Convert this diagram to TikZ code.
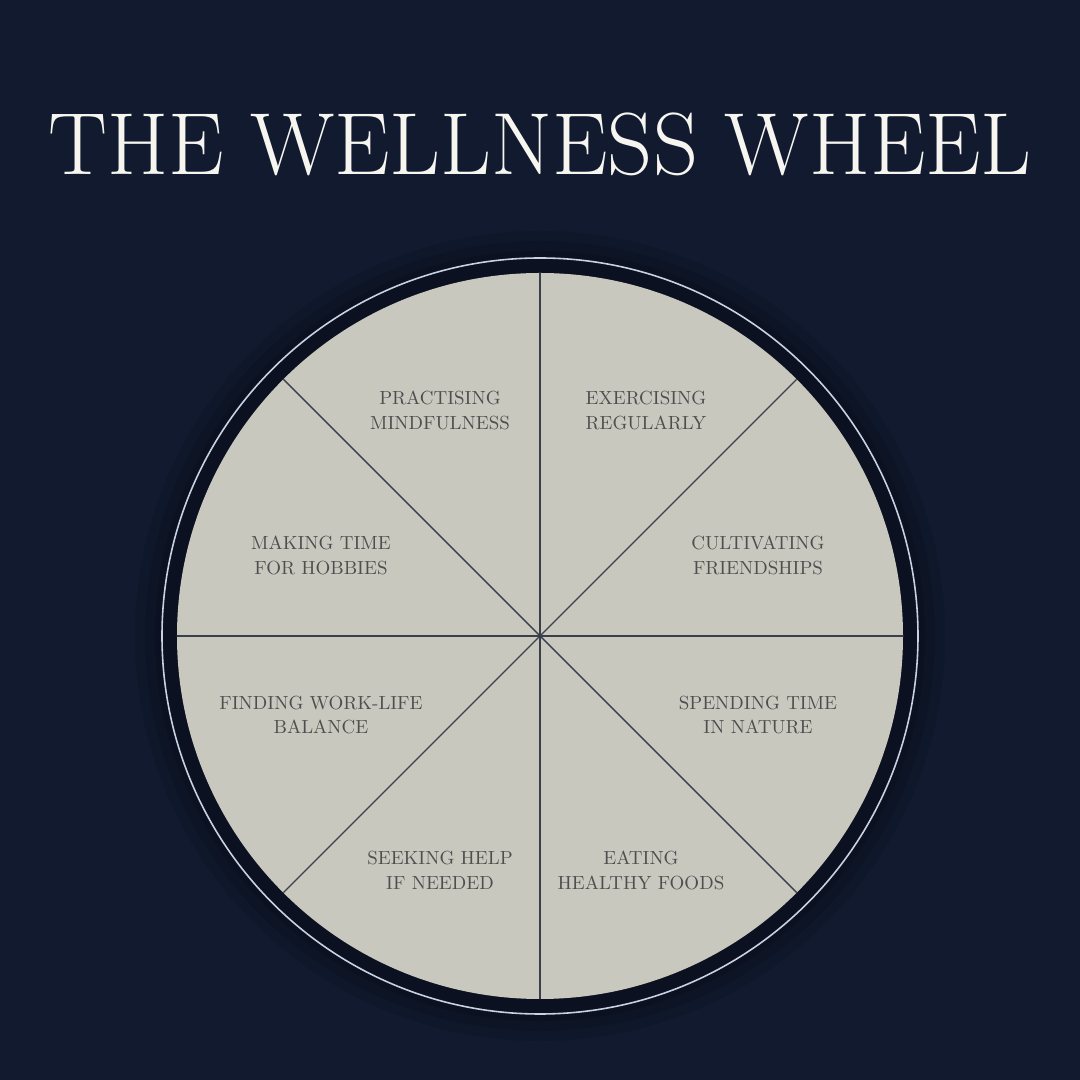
\documentclass[tikz,border=0pt]{standalone}
\usepackage{xcolor}
\usepackage{tikz}
\definecolor{navy}{HTML}{111A2E}
\definecolor{stone}{HTML}{C9C8BF}
\definecolor{inkgray}{HTML}{4E4E4E}
\definecolor{ringline}{HTML}{C8D2E4}
\definecolor{spokeline}{HTML}{3A3F4A}
\definecolor{titlewhite}{HTML}{F7F5F0}

\begin{document}
\begin{tikzpicture}[
    wheellabel/.style={align=center, inner sep=0pt, text=inkgray, font=\fontsize{10}{13.1}\selectfont, scale=0.54, transform shape},
    spoke/.style={draw=spokeline, line width=0.4pt},
    ring/.style={draw=ringline, line width=0.45pt}
  ]
        \useasboundingbox (-5.4,-4.44) rectangle (5.4,6.36);
        \fill[navy] (-5.4,-4.44) rectangle (5.4,6.36);
        \foreach \r/\o in {4.05/0.08, 3.95/0.1, 3.85/0.12} \fill[black, opacity=\o] (0,0) circle (\r);
        \draw[ring] (0,0) circle (3.78);
        \fill[stone] (0,0) circle (3.63);
        \coordinate (hub) at (0,0);
        \foreach \a in {0,45,...,315} \draw[spoke] (hub) -- (\a:3.63);
        \node[inner sep=0pt, text=titlewhite, font=\fontsize{25.1}{30}\selectfont] (title) at (0,4.92) {THE WELLNESS WHEEL};
        \node[wheellabel] (mindful) at (-1.00, 2.255) {PRACTISING\\MINDFULNESS};
        \node[wheellabel] (exercise) at (1.06, 2.255) {EXERCISING\\REGULARLY};
        \node[wheellabel] (hobbies) at (-2.19, 0.81) {MAKING TIME\\FOR HOBBIES};
        \node[wheellabel] (friends) at (2.18, 0.81) {CULTIVATING\\FRIENDSHIPS};
        \node[wheellabel] (balance) at (-2.19, -0.79) {FINDING WORK-LIFE\\BALANCE};
        \node[wheellabel] (nature) at (2.18, -0.79) {SPENDING TIME\\IN NATURE};
        \node[wheellabel] (help) at (-1.00, -2.34) {SEEKING HELP\\IF NEEDED};
        \node[wheellabel] (foods) at (1.01, -2.34) {EATING\\HEALTHY FOODS};
    \end{tikzpicture}
\end{document}
